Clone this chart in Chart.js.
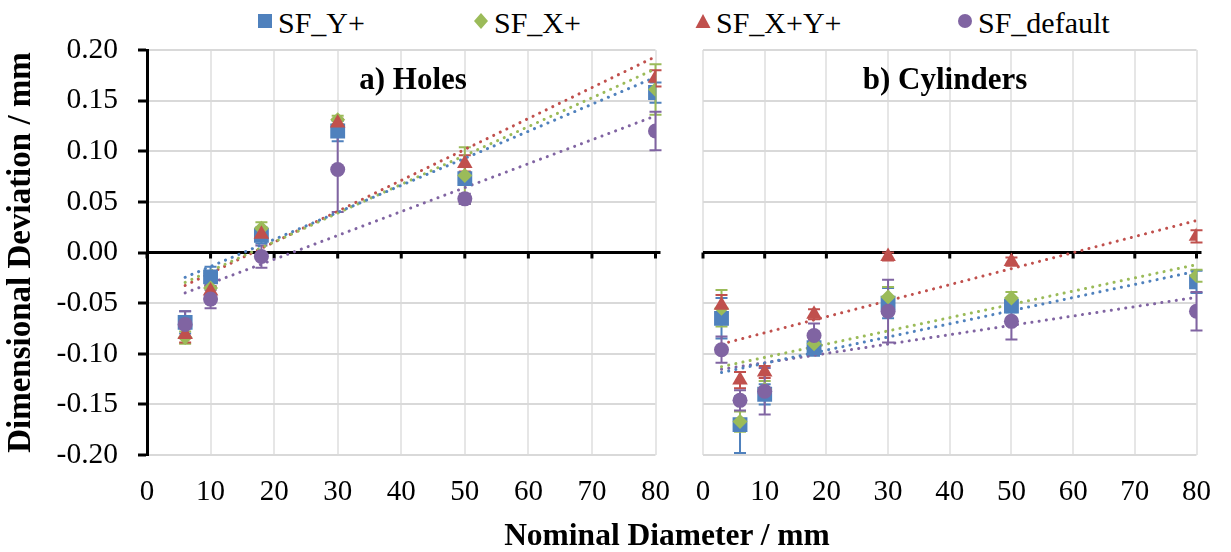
<!DOCTYPE html>
<html>
<head>
<meta charset="utf-8">
<title>Dimensional Deviation</title>
<script src="https://cdn.jsdelivr.net/npm/chart.js@4/dist/chart.umd.min.js"></script>
<style>
  body { margin: 0; background: #fff; }
  #wrap { position: relative; width: 1231px; height: 552px; overflow: hidden;
          font-family: "Liberation Serif", "Times New Roman", Times, "DejaVu Serif", serif; color: #000; }
  canvas { position: absolute; top: 0; }
  #holes { left: 0; }
  #cyl { left: 665px; }
  .legMark { position: absolute; top: 13px; }
  .legText { position: absolute; top: 8px; font-size: 30px; line-height: 30px; white-space: nowrap; }
  #xtitle { position: absolute; left: 0; width: 1334px; top: 519px; text-align: center;
            font-size: 31.5px; line-height: 31px; font-weight: bold; }
</style>
</head>
<body>
<div id="wrap">
  <div id="legend"></div>
  <canvas id="holes" width="690" height="552"></canvas>
  <canvas id="cyl" width="566" height="552"></canvas>
  <div id="xtitle">Nominal Diameter / mm</div>
</div>
<script>
// series names and colours
const seriesNames = ['SF_Y+', 'SF_X+', 'SF_X+Y+', 'SF_default'];
const colors = ['#4F81BD', '#9BBB59', '#C0504D', '#8064A2'];
const shapes = ['rect', 'rectRot', 'triangle', 'circle'];
const radii = [10.5, 7.5, 9, 7.5];

// y axis ticks
const yTicks = [-0.20, -0.15, -0.10, -0.05, 0.00, 0.05, 0.10, 0.15, 0.20];
const xTicks = [0, 10, 20, 30, 40, 50, 60, 70, 80];

// a) Holes
const holesD = [6, 10, 18, 30, 50, 80];
const holesYplus = [-0.069, -0.024, 0.017, 0.120, 0.073, 0.158];
const holesXplus = [-0.084, -0.035, 0.024, 0.131, 0.076, 0.161];
const holesXYplus = [-0.081, -0.038, 0.018, 0.128, 0.088, 0.172];
const holesDefault = [-0.071, -0.046, -0.004, 0.082, 0.053, 0.120];
const holesErrYplus = [0.011, 0.010, 0.008, 0.010, 0.006, 0.010];
const holesErrXplus = [0.006, 0.006, 0.006, 0.004, 0.028, 0.025];
const holesErrXYplus = [0.008, 0.005, 0.006, 0.004, 0.008, 0.008];
const holesErrDefault = [0.013, 0.009, 0.011, 0.042, 0.005, 0.019];

// b) Cylinders
const cylD = [3, 6, 10, 18, 30, 50, 80];
const cylYplus = [-0.065, -0.170, -0.140, -0.094, -0.050, -0.053, -0.029];
const cylXplus = [-0.055, -0.167, -0.135, -0.090, -0.044, -0.045, -0.023];
const cylXYplus = [-0.052, -0.126, -0.118, -0.061, -0.004, -0.009, 0.016];
const cylDefault = [-0.096, -0.146, -0.137, -0.082, -0.058, -0.068, -0.058];
const cylErrYplus = [0.020, 0.028, 0.010, 0.008, 0.015, 0.006, 0.011];
const cylErrXplus = [0.018, 0.010, 0.008, 0.006, 0.010, 0.006, 0.006];
const cylErrXYplus = [0.010, 0.008, 0.006, 0.005, 0.004, 0.004, 0.006];
const cylErrDefault = [0.013, 0.010, 0.023, 0.012, 0.031, 0.018, 0.019];

const FONT = '"Liberation Serif", "Times New Roman", Times, "DejaVu Serif", serif';
Chart.defaults.font.family = FONT;
Chart.defaults.color = '#000';

// legend (html)
const legLeft = [257, 473, 695, 957];
const legSvg = [
  '<rect x="1" y="1" width="14" height="14"/>',
  '<polygon points="8,0 15,8 8,16 1,8"/>',
  '<polygon points="8,1 15.5,15 0.5,15"/>',
  '<circle cx="8" cy="8" r="7"/>'
];
let legHtml = '';
for (let i = 0; i < seriesNames.length; i++) {
  legHtml += '<svg class="legMark" style="left:' + legLeft[i] + 'px" width="16" height="16" fill="' + colors[i] + '">' + legSvg[i] + '</svg>';
  legHtml += '<span class="legText" style="left:' + (legLeft[i] + 21) + 'px">' + seriesNames[i] + '</span>';
}
document.getElementById('legend').innerHTML = legHtml;

function points(xs, ys) {
  return xs.map((x, i) => ({ x: x, y: ys[i] }));
}

// least squares trendline between first and last x
function trend(xs, ys) {
  const n = xs.length;
  const mx = xs.reduce((a, b) => a + b, 0) / n;
  const my = ys.reduce((a, b) => a + b, 0) / n;
  let sxy = 0, sxx = 0;
  for (let i = 0; i < n; i++) {
    sxy += (xs[i] - mx) * (ys[i] - my);
    sxx += (xs[i] - mx) * (xs[i] - mx);
  }
  const b = sxy / sxx;
  const a = my - b * mx;
  const x0 = Math.min(...xs), x1 = Math.max(...xs);
  return [{ x: x0, y: a + b * x0 }, { x: x1, y: a + b * x1 }];
}

function makeDatasets(xs, series, errs) {
  const sets = [];
  series.forEach((ys, i) => {
    sets.push({
      label: seriesNames[i] + ' trend',
      data: trend(xs, ys),
      showLine: true,
      borderColor: colors[i],
      borderWidth: 3,
      borderDash: [0.1, 7.2],
      borderCapStyle: 'round',
      pointRadius: 0,
      order: 10
    });
  });
  series.forEach((ys, i) => {
    sets.push({
      label: seriesNames[i],
      data: points(xs, ys),
      err: errs[i],
      backgroundColor: colors[i],
      borderColor: colors[i],
      borderWidth: 0,
      pointStyle: shapes[i],
      pointRadius: radii[i],
      pointBorderWidth: 0,
      order: 4 - i
    });
  });
  return sets;
}

// error bars + zero axis line + panel title
const extras = {
  id: 'extras',
  beforeDatasetsDraw(chart, args, opts) {
    const ctx = chart.ctx, xs = chart.scales.x, ys = chart.scales.y;
    const area = chart.chartArea;
    // axis at y = 0
    const y0 = ys.getPixelForValue(0);
    ctx.save();
    ctx.strokeStyle = '#000';
    ctx.lineWidth = 3;
    ctx.beginPath();
    ctx.moveTo(area.left, y0);
    ctx.lineTo(area.right + 5, y0);
    ctx.stroke();
    ctx.beginPath();
    xTicks.forEach(v => {
      const px = xs.getPixelForValue(v);
      ctx.moveTo(px, y0);
      ctx.lineTo(px, y0 + 6);
    });
    ctx.stroke();
    // error bars
    ctx.lineWidth = 2;
    chart.data.datasets.forEach(ds => {
      if (!ds.err) return;
      ctx.strokeStyle = ds.borderColor;
      ds.data.forEach((p, j) => {
        const px = xs.getPixelForValue(p.x);
        const top = ys.getPixelForValue(p.y + ds.err[j]);
        const bot = ys.getPixelForValue(p.y - ds.err[j]);
        ctx.beginPath();
        ctx.moveTo(px, top); ctx.lineTo(px, bot);
        ctx.moveTo(px - 6, top); ctx.lineTo(px + 6, top);
        ctx.moveTo(px - 6, bot); ctx.lineTo(px + 6, bot);
        ctx.stroke();
      });
    });
    ctx.restore();
  },
  afterDraw(chart, args, opts) {
    const ctx = chart.ctx;
    ctx.save();
    ctx.font = 'bold 31px ' + FONT;
    ctx.fillStyle = '#000';
    ctx.textAlign = 'center';
    ctx.textBaseline = 'alphabetic';
    ctx.fillText(opts.text, opts.x, opts.y);
    ctx.restore();
  }
};

function makeChart(id, xs, series, errs, left) {
  return new Chart(document.getElementById(id), {
    type: 'scatter',
    data: { datasets: makeDatasets(xs, series, errs) },
    plugins: [extras],
    options: {
      responsive: false,
      animation: false,
      layout: { padding: left ? { left: 0, right: 34, top: 50, bottom: 0 } : { left: 0, right: 23, top: 50, bottom: 0 } },
      plugins: {
        legend: { display: false },
        tooltip: { enabled: false },
        extras: left ? { text: 'a) Holes', x: 413, y: 89 } : { text: 'b) Cylinders', x: 280, y: 89 }
      },
      scales: {
        x: {
          type: 'linear',
          min: 0, max: 80,
          afterBuildTicks: s => { s.ticks = xTicks.map(v => ({ value: v })); },
          afterFit: s => { s.height = 97; },
          ticks: { font: { size: 29 }, color: '#000', padding: 20, maxRotation: 0, autoSkip: false },
          grid: { color: '#e6e6e6', lineWidth: 2, drawTicks: false },
          border: { display: false }
        },
        y: {
          type: 'linear',
          min: -0.2, max: 0.2,
          afterBuildTicks: s => { s.ticks = yTicks.map(v => ({ value: v })); },
          afterFit: s => { s.width = left ? 147 : 38; },
          ticks: {
            display: left,
            font: { size: 29.5 }, color: '#000', padding: 20,
            callback: v => (Math.abs(v) < 1e-9 ? 0 : v).toFixed(2)
          },
          grid: { color: '#d9d9d9', lineWidth: 2, drawTicks: left, tickLength: 9, tickColor: '#000', tickWidth: 3 },
          border: { display: left, color: '#000', width: 3 },
          title: {
            display: left,
            text: 'Dimensional Deviation / mm',
            font: { size: 33, weight: 'bold' },
            color: '#000',
            padding: { top: 2, bottom: 0 }
          }
        }
      }
    }
  });
}

makeChart('holes', holesD, [holesYplus, holesXplus, holesXYplus, holesDefault],
  [holesErrYplus, holesErrXplus, holesErrXYplus, holesErrDefault], true);
makeChart('cyl', cylD, [cylYplus, cylXplus, cylXYplus, cylDefault],
  [cylErrYplus, cylErrXplus, cylErrXYplus, cylErrDefault], false);
</script>
</body>
</html>
